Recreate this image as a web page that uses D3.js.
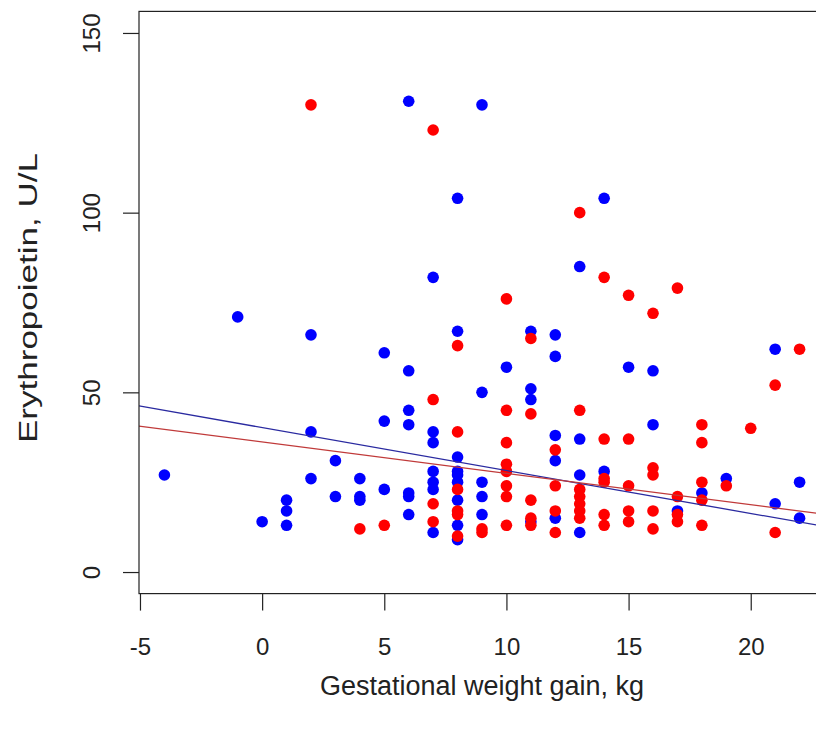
<!DOCTYPE html>
<html>
<head>
<meta charset="utf-8">
<script src="https://cdn.jsdelivr.net/npm/d3@7"></script>
<style>
  body { margin: 0; background: #fff; }
  svg { display: block; font-family: "Liberation Sans", Arial, sans-serif; }
</style>
</head>
<body>
<script>
// blue group: gestational weight gain (kg) and erythropoietin (U/L)
var blueX = [-4, -1, 0, 1, 1, 1, 2, 2, 2, 3, 3, 4, 4, 4, 5, 5, 5,
  6, 6, 6, 6, 6, 6, 6, 7, 7, 7, 7, 7, 7, 7,
  8, 8, 8, 8, 8, 8, 8, 8, 8, 9, 9, 9, 9, 9, 10,
  11, 11, 11, 11, 12, 12, 12, 12, 12, 13, 13, 13, 13,
  14, 14, 15, 16, 16, 17, 18, 19, 21, 21, 22, 22];
var blueY = [27, 71, 14, 20, 17, 13, 66, 39, 26, 31, 21, 26, 21, 20, 61, 42, 23,
  131, 56, 45, 41, 22, 21, 16, 82, 39, 36, 28, 25, 23, 11,
  104, 67, 32, 28, 27, 25, 20, 13, 9, 130, 50, 25, 21, 16, 57,
  67, 51, 48, 14, 66, 60, 38, 31, 15, 85, 37, 27, 11,
  104, 28, 57, 56, 41, 17, 22, 26, 62, 19, 25, 15];

// red group
var redX = [2, 4, 5, 7, 7, 7, 7, 8, 8, 8, 8, 8, 8, 9, 9,
  10, 10, 10, 10, 10, 10, 10, 10, 11, 11, 11, 11, 11,
  12, 12, 12, 12, 13, 13, 13, 13, 13, 13, 13,
  14, 14, 14, 14, 14, 14, 15, 15, 15, 15, 15,
  16, 16, 16, 16, 16, 17, 17, 17, 17, 18, 18, 18, 18, 18,
  19, 20, 21, 21, 22];
var redY = [130, 12, 13, 123, 48, 19, 14, 63, 39, 23, 17, 16, 10, 12, 11,
  76, 45, 36, 30, 28, 24, 21, 13, 65, 44, 20, 15, 13,
  34, 24, 17, 11, 100, 45, 23, 21, 19, 17, 15,
  82, 37, 26, 25, 16, 13, 77, 37, 24, 17, 14,
  72, 29, 27, 17, 12, 79, 21, 16, 14, 41, 36, 25, 20, 13,
  24, 40, 52, 11, 62];

// fitted lines: [intercept, slope]
var blueFit = [40.2, -1.195];
var redFit = [36.2, -0.874];

var xTicks = [-5, 0, 5, 10, 15, 20];
var yTicks = [0, 50, 100, 150];

var width = 816, height = 729;
var pLeft = 139, pRight = 825, pTop = 11.4, pBottom = 593.6;

var x = d3.scaleLinear().domain([-5.04, 23.04]).range([pLeft, pRight]);
var y = d3.scaleLinear().domain([-6, 156]).range([pBottom, pTop]);

var svg = d3.select("body").append("svg")
  .attr("width", width)
  .attr("height", height);

svg.append("clipPath").attr("id", "plot")
  .append("rect")
    .attr("x", pLeft).attr("y", pTop)
    .attr("width", pRight - pLeft).attr("height", pBottom - pTop);

var plot = svg.append("g").attr("clip-path", "url(#plot)");

function drawFit(fit, color) {
  var d = x.domain();
  plot.append("line")
    .attr("x1", x(d[0])).attr("y1", y(fit[0] + fit[1] * d[0]))
    .attr("x2", x(d[1])).attr("y2", y(fit[0] + fit[1] * d[1]))
    .attr("stroke", color)
    .attr("stroke-width", 1.3);
}

function drawPoints(xs, ys, color) {
  plot.append("g").selectAll("circle")
    .data(xs)
    .join("circle")
      .attr("cx", function(d) { return x(d); })
      .attr("cy", function(d, i) { return y(ys[i]); })
      .attr("r", 5.8)
      .attr("fill", color);
}

drawPoints(blueX, blueY, "#0000ff");
drawPoints(redX, redY, "#ff0000");
drawFit(blueFit, "#2a2aa0");
drawFit(redFit, "#c03a3a");

// box
svg.append("rect")
  .attr("x", pLeft).attr("y", pTop)
  .attr("width", pRight - pLeft).attr("height", pBottom - pTop)
  .attr("fill", "none")
  .attr("stroke", "#222")
  .attr("stroke-width", 1.2);

var fmt = function(d) { return String(d); }; // plain hyphen like R

var xAxis = svg.append("g")
  .attr("transform", "translate(0," + pBottom + ")")
  .call(d3.axisBottom(x).tickValues(xTicks).tickFormat(fmt).tickSize(17).tickPadding(0));
xAxis.select(".domain").remove();
xAxis.selectAll("line").attr("stroke", "#222").attr("stroke-width", 1.2);
xAxis.selectAll("text")
  .attr("y", 61).attr("dy", 0)
  .attr("fill", "#222")
  .style("font-size", "24px")
  .style("font-family", "'Liberation Sans', Arial, sans-serif");

var yAxis = svg.append("g")
  .attr("transform", "translate(" + pLeft + ",0)")
  .call(d3.axisLeft(y).tickValues(yTicks).tickFormat(fmt).tickSize(16));
yAxis.select(".domain").remove();
yAxis.selectAll("line").attr("stroke", "#222").attr("stroke-width", 1.2);
yAxis.selectAll("text")
  .attr("x", 0).attr("y", -39).attr("dy", 0)
  .attr("transform", "rotate(-90)")
  .attr("text-anchor", "middle")
  .attr("fill", "#222")
  .style("font-size", "24px")
  .style("font-family", "'Liberation Sans', Arial, sans-serif");

svg.append("text")
  .attr("x", (pLeft + pRight) / 2)
  .attr("y", 695)
  .attr("text-anchor", "middle")
  .attr("fill", "#222")
  .style("font-size", "27px")
  .text("Gestational weight gain, kg");

svg.append("text")
  .attr("transform", "translate(37,298) rotate(-90)")
  .attr("x", -145)
  .attr("textLength", 290)
  .attr("lengthAdjust", "spacingAndGlyphs")
  .attr("fill", "#222")
  .style("font-size", "26px")
  .text("Erythropoietin, U/L");
</script>
</body>
</html>
